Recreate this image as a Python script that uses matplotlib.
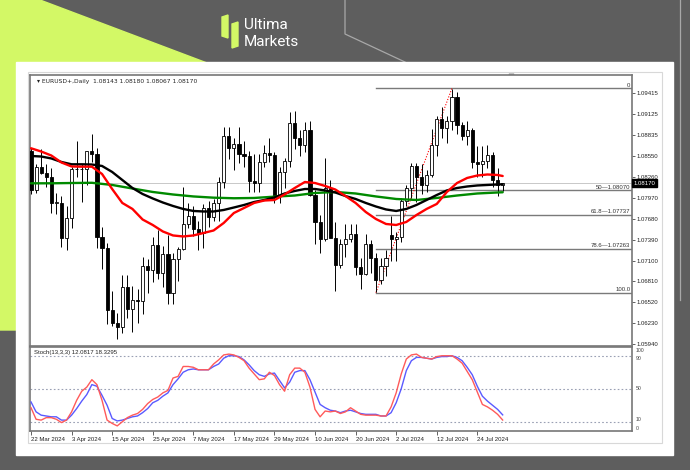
import matplotlib
matplotlib.use("Agg")
import matplotlib.pyplot as plt
from matplotlib.patches import Rectangle, Polygon

# ---------------- data ----------------
date_labels = ["22 Mar 2024", "3 Apr 2024", "15 Apr 2024", "25 Apr 2024", "7 May 2024",
               "17 May 2024", "29 May 2024", "10 Jun 2024", "20 Jun 2024", "2 Jul 2024",
               "12 Jul 2024", "24 Jul 2024"]
date_idx = [0, 8, 16, 24, 32, 40, 48, 56, 64, 72, 80, 88]

opens = [1.0861, 1.0808, 1.0839, 1.0831, 1.0826, 1.0790, 1.0790, 1.0741, 1.0769, 1.0836,
         1.0836, 1.0837, 1.0861, 1.0857, 1.0743, 1.0727, 1.0642, 1.0624, 1.0618, 1.0673,
         1.0643, 1.0655, 1.0654, 1.0703, 1.0697, 1.0731, 1.0693, 1.0719, 1.0665, 1.0712,
         1.0726, 1.0761, 1.0772, 1.0754, 1.0748, 1.0783, 1.0770, 1.0789, 1.0819, 1.0883,
         1.0866, 1.0871, 1.0857, 1.0855, 1.0820, 1.0818, 1.0846, 1.0859, 1.0856, 1.0800,
         1.0833, 1.0848, 1.0901, 1.0880, 1.0870, 1.0890, 1.0801, 1.0764, 1.0740, 1.0810,
         1.0741, 1.0704, 1.0733, 1.0740, 1.0747, 1.0701, 1.0692, 1.0733, 1.0714, 1.0683,
         1.0702, 1.0746, 1.0740, 1.0743, 1.0792, 1.0810, 1.0841, 1.0826, 1.0815, 1.0829,
         1.0870, 1.0906, 1.0894, 1.0903, 1.0937, 1.0898, 1.0883, 1.0890, 1.0846, 1.0843,
         1.0848, 1.0856, 1.0822, 1.08143]
highs = [1.0866, 1.0843, 1.0864, 1.0843, 1.0838, 1.0803, 1.0800, 1.0785, 1.0840, 1.0876,
         1.0843, 1.0862, 1.0885, 1.0866, 1.0756, 1.0734, 1.0668, 1.0638, 1.0690, 1.0690,
         1.0675, 1.0670, 1.0715, 1.0712, 1.0742, 1.0752, 1.0730, 1.0745, 1.0720, 1.0729,
         1.0812, 1.0790, 1.0786, 1.0765, 1.0788, 1.0792, 1.0795, 1.0825, 1.0895, 1.0895,
         1.0880, 1.0895, 1.0875, 1.0862, 1.0858, 1.0858, 1.0870, 1.0880, 1.0860, 1.0840,
         1.0852, 1.0915, 1.0917, 1.0890, 1.0902, 1.0903, 1.0808, 1.0773, 1.0852, 1.0822,
         1.0763, 1.0740, 1.0760, 1.0760, 1.0760, 1.0714, 1.0747, 1.0739, 1.0720, 1.0713,
         1.0724, 1.0772, 1.0749, 1.0797, 1.0815, 1.0845, 1.0845, 1.0843, 1.0835, 1.0892,
         1.0910, 1.0922, 1.0910, 1.0948, 1.0943, 1.0902, 1.0903, 1.0894, 1.0868, 1.0869,
         1.0870, 1.0860, 1.0838, 1.08180]
lows = [1.0802, 1.0804, 1.0830, 1.0812, 1.0776, 1.0774, 1.0729, 1.0724, 1.0755, 1.0826,
        1.0791, 1.0815, 1.0847, 1.0728, 1.0698, 1.0622, 1.0620, 1.0601, 1.0610, 1.0630,
        1.0611, 1.0624, 1.0636, 1.0665, 1.0680, 1.0685, 1.0673, 1.0650, 1.0650, 1.0681,
        1.0724, 1.0755, 1.0744, 1.0724, 1.0727, 1.0757, 1.0765, 1.0765, 1.0810, 1.0850,
        1.0835, 1.0845, 1.0839, 1.0805, 1.0805, 1.0805, 1.0840, 1.0846, 1.0790, 1.0790,
        1.0810, 1.0840, 1.0865, 1.0855, 1.0860, 1.0800, 1.0733, 1.0720, 1.0737, 1.0745,
        1.0668, 1.0700, 1.0715, 1.0735, 1.0690, 1.0671, 1.0690, 1.0693, 1.0666, 1.0677,
        1.0688, 1.0709, 1.0710, 1.0735, 1.0786, 1.0796, 1.0791, 1.0802, 1.0805, 1.0825,
        1.0854, 1.0880, 1.0872, 1.0890, 1.0885, 1.0877, 1.0870, 1.0838, 1.0826, 1.0825,
        1.0838, 1.0812, 1.0800, 1.08067]
closes = [1.0808, 1.0839, 1.0831, 1.0826, 1.0790, 1.0791, 1.0741, 1.0769, 1.0836, 1.0836,
          1.0837, 1.0861, 1.0857, 1.0743, 1.0727, 1.0642, 1.0624, 1.0618, 1.0673, 1.0643,
          1.0655, 1.0654, 1.0703, 1.0697, 1.0731, 1.0693, 1.0719, 1.0665, 1.0712, 1.0726,
          1.0761, 1.0772, 1.0754, 1.0748, 1.0783, 1.0770, 1.0789, 1.0819, 1.0883, 1.0866,
          1.0871, 1.0857, 1.0855, 1.0820, 1.0818, 1.0846, 1.0859, 1.0856, 1.0800, 1.0833,
          1.0848, 1.0901, 1.0880, 1.0870, 1.0890, 1.0801, 1.0764, 1.0740, 1.0810, 1.0741,
          1.0704, 1.0733, 1.0740, 1.0747, 1.0701, 1.0692, 1.0733, 1.0714, 1.0683, 1.0702,
          1.0713, 1.0740, 1.0743, 1.0792, 1.0810, 1.0841, 1.0826, 1.0815, 1.0829, 1.0870,
          1.0906, 1.0894, 1.0903, 1.0937, 1.0898, 1.0883, 1.0890, 1.0846, 1.0843, 1.0848,
          1.0856, 1.0822, 1.0815, 1.08170]

# moving averages (read at sample bars)
ma_red_idx = [0, 2, 4, 6, 8, 10, 12, 14, 16, 18, 20, 22, 24, 26, 28, 30, 32, 34, 36, 38,
              40, 42, 44, 46, 48, 50, 52, 54, 56, 58, 60, 62, 64, 66, 68, 70, 72, 74, 76, 78,
              80, 82, 84, 86, 88, 90, 92, 93]
ma_red = [1.08654, 1.08609, 1.08554, 1.08457, 1.08402, 1.08399, 1.08399, 1.08298, 1.08090, 1.07897,
          1.07814, 1.07668, 1.07592, 1.07502, 1.07447, 1.07433, 1.07447, 1.07481, 1.07516, 1.07620,
          1.07758, 1.07827, 1.07897, 1.07931, 1.07938, 1.08014, 1.08104, 1.08187, 1.08173, 1.08132,
          1.08083, 1.07993, 1.07897, 1.07772, 1.07675, 1.07606, 1.07592, 1.07634, 1.07730, 1.07814,
          1.07883, 1.08049, 1.08173, 1.08243, 1.08277, 1.08291, 1.08284, 1.08270]
ma_black_idx = ma_red_idx
ma_black = [1.08547, 1.08540, 1.08513, 1.08464, 1.08432, 1.08432, 1.08429, 1.08409, 1.08326, 1.08215,
            1.08104, 1.08021, 1.07959, 1.07903, 1.07855, 1.07814, 1.07786, 1.07779, 1.07779, 1.07800,
            1.07834, 1.07869, 1.07910, 1.07938, 1.07973, 1.08028, 1.08063, 1.08090, 1.08090, 1.08070,
            1.08042, 1.07993, 1.07952, 1.07897, 1.07848, 1.07807, 1.07786, 1.07814, 1.07869, 1.07938,
            1.08007, 1.08070, 1.08104, 1.08125, 1.08139, 1.08146, 1.08153, 1.08155]
ma_green_idx = [0, 4, 8, 12, 16, 20, 24, 28, 32, 36, 40, 44, 48, 52, 56, 60, 64, 68, 72, 76,
                80, 84, 88, 92, 93]
ma_green = [1.08169, 1.08169, 1.08173, 1.08176, 1.08146, 1.08097, 1.08049, 1.08014, 1.07987, 1.07970,
            1.07962, 1.07966, 1.07984, 1.08000, 1.08035, 1.08049, 1.08028, 1.07987, 1.07952, 1.07938,
            1.07966, 1.08000, 1.08028, 1.08042, 1.08045]

# stochastic %K (red) and %D (blue)
stoch_k = [27, 13, 12, 15, 15, 13, 9, 12, 22, 36, 47, 52, 61, 55, 36, 12, 8, 5, 10, 15,
           18, 20, 25, 32, 37, 40, 45, 48, 63, 65, 77, 77, 76, 73, 73, 73, 80, 85, 91, 92,
           91, 88, 84, 75, 68, 61, 62, 70, 66, 55, 47, 67, 75, 75, 70, 52, 25, 16, 23, 22,
           23, 20, 22, 27, 23, 19, 18, 18, 18, 17, 17, 28, 45, 68, 86, 91, 92, 88, 87, 86,
           89, 90, 90, 90, 86, 81, 71, 61, 46, 31, 28, 24, 19, 12.08]
stoch_d = [34, 22, 18, 17, 16, 16, 12, 12, 18, 26, 35, 43, 55, 53, 42, 30, 14, 11, 12, 14,
           16, 17, 21, 26, 33, 36, 41, 45, 55, 62, 70, 73, 74, 73, 73, 73, 77, 80, 87, 90,
           90, 89, 85, 79, 72, 67, 65, 68, 69, 60, 51, 58, 70, 72, 72, 61, 46, 31, 27, 24,
           23, 21, 23, 24, 22, 20, 19, 19, 19, 17, 17, 21, 33, 50, 72, 84, 88, 88, 87, 86,
           88, 89, 89, 90, 88, 84, 76, 67, 53, 41, 35, 30, 25, 18.33]
stoch_levels = [90, 50, 10]
stoch_axis_labels = ["100", "90", "50", "10", "0"]
stoch_axis_values = [100, 90, 50, 10, 0]

price_ticks = [1.09415, 1.09125, 1.08835, 1.08550, 1.08260, 1.07970, 1.07680, 1.07390,
               1.07100, 1.06810, 1.06520, 1.06230, 1.05940]

fib_high, fib_low = 1.09485, 1.06655
fib_high_idx, fib_low_idx = 83, 68
fib_levels = [0.0, 50.0, 61.8, 78.6, 100.0]
fib_labels = ["0", "50\u20141.08070", "61.8\u20141.07737", "78.6\u20141.07263", "100.0"]
last_price = 1.08170

# ---------------- figure ----------------
W, H = 690, 470
fig = plt.figure(figsize=(W / 100, H / 100), dpi=100)
bg = fig.add_axes([0, 0, 1, 1])
bg.set_xlim(0, W)
bg.set_ylim(H, 0)
bg.axis("off")

lime = "#d3f866"
bg.add_patch(Rectangle((0, 0), W, H, color="#5e5e5e", zorder=0))
bg.add_patch(Polygon([(0, 0), (40, 0), (215, 66), (16, 330), (0, 330)], closed=True,
                     color=lime, zorder=1))
# decorative thin lines
bg.plot([345, 345, 405], [0, 34, 62], color="#a8a8a8", lw=0.9, zorder=1)
bg.plot([680, 680], [0, 300], color="#a8a8a8", lw=0.9, zorder=1)

# logo
bg.add_patch(Polygon([(222, 17), (228, 15), (228, 38), (222, 36)], closed=True, color=lime, zorder=2))
bg.add_patch(Polygon([(232, 24), (238, 22), (238, 46), (232, 48)], closed=True, color=lime, zorder=2))
bg.text(244, 25, "Ultima", color="white", fontsize=11, family="Roboto", va="center", ha="left", zorder=2)
bg.text(244, 42, "Markets", color="white", fontsize=11, family="Roboto", va="center", ha="left", zorder=2)

# white panel and light frame
bg.add_patch(Rectangle((16, 62), 657, 393, color="white", zorder=2))
bg.add_patch(Rectangle((28, 72), 634, 371, fill=False, ec="#d8d8d8", lw=0.8, zorder=3))
bg.plot([511], [76], marker="v", color="#a0a0a0", markersize=3.5, zorder=3)

FONT = "Liberation Sans"
FS = 4.3

# ---------------- price panel ----------------
ax = fig.add_axes([30 / W, 1 - 346 / H, 602 / W, (346 - 75) / H])
ax.set_xlim(-0.2, 118.5)
ax.set_ylim(1.05917, 1.09668)
for s in ax.spines.values():
    s.set_color("#777777")
    s.set_linewidth(1.2)
ax.set_xticks([])
ax.yaxis.tick_right()
ax.set_yticks(price_ticks)
ax.set_yticklabels([f"{p:.5f}" for p in price_ticks], fontsize=FS, family=FONT, color="#222222")
ax.tick_params(axis="y", length=2, width=0.5, pad=1.5, colors="#222222")

idx = list(range(len(opens)))
ax.axhline(last_price, color="#c8c8c8", lw=0.7, zorder=1)

# fibonacci
rng = fib_high - fib_low
for lvl, lab in zip(fib_levels, fib_labels):
    y = fib_high - rng * lvl / 100.0
    ax.plot([fib_low_idx, 118.5], [y, y], color="#7a7a7a", lw=1.0, zorder=1)
    ax.text(118.2, y + 0.00008, lab, fontsize=FS, family=FONT, color="#333333",
            ha="right", va="bottom", zorder=5)
ax.plot([fib_low_idx, fib_high_idx], [fib_low, fib_high], color="red", lw=0.8,
        linestyle=(0, (1, 1.5)), zorder=2)

# candles
ax.vlines(idx, lows, highs, color="black", lw=0.7, zorder=2)
bottoms = [min(o, c) for o, c in zip(opens, closes)]
heights = [max(abs(c - o), 0.00004) for o, c in zip(opens, closes)]
fills = ["white" if c >= o else "black" for o, c in zip(opens, closes)]
ax.bar(idx, heights, bottom=bottoms, width=0.62, color=fills, edgecolor="black",
       linewidth=0.6, zorder=3)

# moving averages
ax.plot(ma_green_idx, ma_green, color="#008a00", lw=1.7, zorder=4, solid_capstyle="round")
ax.plot(ma_black_idx, ma_black, color="black", lw=1.7, zorder=4, solid_capstyle="round")
ax.plot(ma_red_idx, ma_red, color="#ff0000", lw=1.7, zorder=4, solid_capstyle="round")

ax.text(0.012, 0.985, "\u25BE EURUSD+,Daily  1.08143 1.08180 1.08067 1.08170", transform=ax.transAxes,
        fontsize=FS, family=["DejaVu Sans"], color="#222222", ha="left", va="top")

# current price box
ax.text(1.003, last_price, "1.08170", transform=ax.get_yaxis_transform(), fontsize=FS,
        family=FONT, color="white", ha="left", va="center",
        bbox=dict(boxstyle="square,pad=0.25", fc="black", ec="black"), zorder=6, clip_on=False)

# ---------------- stochastic panel ----------------
sx = fig.add_axes([30 / W, 1 - 431 / H, 602 / W, (431 - 347) / H])
sx.set_xlim(-0.2, 118.5)
sx.set_ylim(-1.2, 100.6)
for s in sx.spines.values():
    s.set_color("#777777")
    s.set_linewidth(1.2)
for lv in stoch_levels:
    sx.axhline(lv, color="#9aa0b4", lw=0.8, linestyle=(0, (1.5, 2)), zorder=1)
sx.plot(idx, stoch_d, color="#5a5aff", lw=1.0, zorder=3)
sx.plot(idx, stoch_k, color="#ff5a5a", lw=1.0, zorder=3)
sx.text(0.006, 0.96, "Stoch(13,3,3) 12.0817 18.3295", transform=sx.transAxes, fontsize=FS,
        family=FONT, color="#222222", ha="left", va="top")

sx.set_yticks([])
ytr = sx.get_yaxis_transform()
# label placement (axis units) so the stacked labels stay legible
label_pos = {"100": (96, "center"), "90": (90, "top"), "50": (50, "center"),
             "10": (10, "bottom"), "0": (5, "top")}
for lab in stoch_axis_labels:
    v, va = label_pos[lab]
    sx.text(1.006, v, lab, transform=ytr, fontsize=FS - 0.6, family=FONT, color="#444444",
            ha="left", va=va, clip_on=False)
sx.set_xticks(date_idx)
sx.set_xticklabels(date_labels, fontsize=FS, family=FONT, color="#222222", ha="left")
sx.tick_params(axis="x", length=3, width=0.5, pad=1.5, colors="#222222")

fig.savefig("out.png", dpi=100)
